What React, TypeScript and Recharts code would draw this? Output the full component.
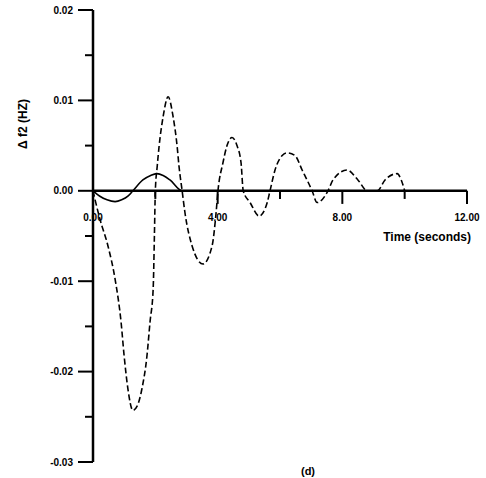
import React from 'react';
import { LineChart, Line, XAxis, YAxis, ReferenceLine, ReferenceDot, Customized } from 'recharts';

// dashed response (time in s, deviation in Hz)
const dashedTime = [
  0, 0.06, 0.22, 0.48, 0.71, 0.9, 1.0, 1.12, 1.28, 1.42, 1.57, 1.73, 1.83, 1.93, 1.97, 2.0, 2.06, 2.12,
  2.25, 2.41, 2.57, 2.7, 2.76, 2.86, 2.95, 3.18, 3.53, 3.82, 3.95, 4.01, 4.17, 4.3, 4.46, 4.62, 4.75,
  4.82, 5.04, 5.33, 5.59, 5.68, 5.84, 6.07, 6.23, 6.48, 6.71, 7.03, 7.19, 7.54, 7.7, 8.15, 8.5, 8.8,
  9.12, 9.37, 9.76, 9.89, 10.0,
];
const dashedValue = [
  0, -0.0009, -0.0031, -0.0061, -0.0098, -0.0145, -0.0183, -0.0219, -0.0243, -0.0238, -0.0219, -0.0183,
  -0.0145, -0.0109, -0.005, 0, 0.0027, 0.0049, 0.0082, 0.0104, 0.0082, 0.0049, 0.0027, 0, -0.0024,
  -0.0061, -0.0081, -0.0061, -0.0024, 0, 0.0031, 0.005, 0.0059, 0.005, 0.0031, 0, -0.0013, -0.0028,
  -0.0013, 0, 0.0023, 0.0039, 0.0042, 0.0039, 0.0023, 0, -0.0013, 0, 0.0012, 0.0023, 0.0012, 0, 0,
  0.0012, 0.0019, 0.0012, 0,
];

// solid response
const solidTime = [0, 0.22, 0.45, 0.71, 0.92, 1.12, 1.28, 1.6, 1.85, 2.05, 2.25, 2.47, 2.86, 3.4, 5, 7, 10];
const solidValue = [0, -0.0006, -0.001, -0.0012, -0.001, -0.0006, 0, 0.0012, 0.0017, 0.0019, 0.0017, 0.0012, 0, 0, 0, 0, 0];

const yTicks = [-0.03, -0.025, -0.02, -0.015, -0.01, -0.005, 0, 0.005, 0.01, 0.015, 0.02];
const xMajorTicks = [4, 8, 12];
const xMinorTicks = [2, 6, 10];
const xTickLabels = ['0.00', '4.00', '8.00', '12.00'];
const xLabelAt = [0, 4, 8, 12];

const dashedData = dashedTime.map((t, i) => ({ t, v: dashedValue[i] }));
const solidData = solidTime.map((t, i) => ({ t, v: solidValue[i] }));

const FONT = '"Liberation Sans", Arial, sans-serif';

const isMajor = (v: number) => Math.abs(v * 100 - Math.round(v * 100)) < 1e-6;

const YTick = (props: any) => {
  const { x, y, payload } = props;
  const v = payload.value as number;
  const major = isMajor(v);
  const len = major ? 15 : 8;
  return (
    <g>
      <line x1={x - len} x2={x} y1={y} y2={y} stroke="#000" strokeWidth={2} />
      {major && (
        <text x={x - 20} y={y} textAnchor="end" dominantBaseline="central" fontSize={10} fontWeight="bold" fontFamily={FONT} fill="#000">
          {v.toFixed(2)}
        </text>
      )}
    </g>
  );
};

const Titles = () => (
  <g fontFamily={FONT} fontWeight="bold" fill="#000">
    <text x={23} y={124} transform="rotate(-90 23 124)" textAnchor="middle" dominantBaseline="central" fontSize={12}>
      Δ f2 (HZ)
    </text>
    <text x={471} y={237} textAnchor="end" dominantBaseline="central" fontSize={12}>
      Time (seconds)
    </text>
    <text x={308} y={475} textAnchor="middle" fontSize={11}>
      (d)
    </text>
  </g>
);

export default function App() {
  return (
    <div style={{ position: 'absolute', left: 0, top: 0, width: 486, height: 478, background: '#fff' }}>
      <LineChart width={486} height={478} margin={{ top: 10, right: 19, bottom: 16, left: 0 }}>
        <XAxis type="number" dataKey="t" domain={[0, 12]} hide />
        <YAxis
          type="number"
          domain={[-0.03, 0.02]}
          ticks={yTicks}
          interval={0}
          width={93}
          tickSize={0}
          tickMargin={0}
          tickLine={false}
          axisLine={{ stroke: '#000', strokeWidth: 2.5 }}
          tick={<YTick />}
        />
        <ReferenceLine y={0} stroke="#000" strokeWidth={2.5} />
        {xMajorTicks.map((t) => (
          <ReferenceLine key={`maj-${t}`} segment={[{ x: t, y: 0 }, { x: t, y: -0.00145 }]} stroke="#000" strokeWidth={2} />
        ))}
        {xMinorTicks.map((t) => (
          <ReferenceLine key={`min-${t}`} segment={[{ x: t, y: 0 }, { x: t, y: -0.0009 }]} stroke="#000" strokeWidth={2} />
        ))}
        {xLabelAt.map((t, i) => (
          <ReferenceDot
            key={`lab-${t}`}
            x={t}
            y={0}
            r={0}
            fill="none"
            stroke="none"
            label={{ value: xTickLabels[i], position: 'bottom', offset: 23, fontSize: 10, fontWeight: 'bold', fontFamily: FONT, fill: '#000' }}
          />
        ))}
        <Line
          data={solidData}
          dataKey="v"
          type="monotone"
          stroke="#000"
          strokeWidth={1.6}
          dot={false}
          isAnimationActive={false}
        />
        <Line
          data={dashedData}
          dataKey="v"
          type="monotone"
          stroke="#000"
          strokeWidth={1.6}
          strokeDasharray="6 3"
          dot={false}
          isAnimationActive={false}
        />
        <Customized component={<Titles />} />
      </LineChart>
    </div>
  );
}
